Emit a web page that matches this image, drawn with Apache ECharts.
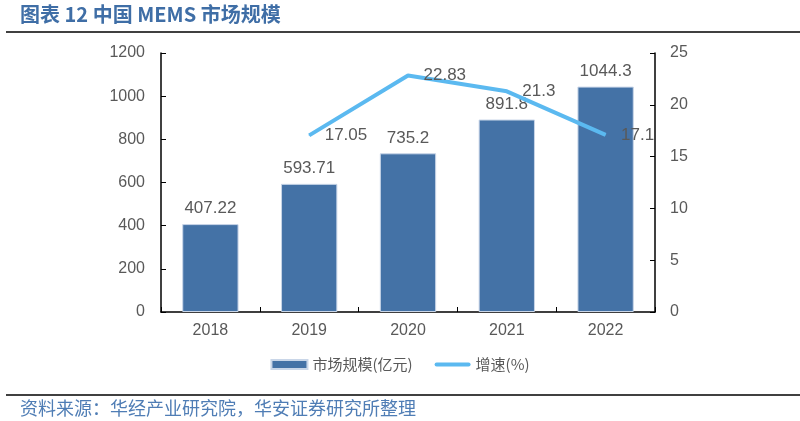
<!DOCTYPE html>
<html><head><meta charset="utf-8">
<script src="https://cdn.jsdelivr.net/npm/echarts@6/dist/echarts.min.js"></script>
<style>html,body{margin:0;padding:0;background:#fff;}#c{width:800px;height:421px;}</style>
</head><body><div id="c"></div>
<script>
const categories = ['2018','2019','2020','2021','2022'];
const marketSize = [407.22, 593.71, 735.2, 891.8, 1044.3];
const growth = [null, 17.05, 22.83, 21.3, 17.1];
const growthLabels = ['', '17.05', '22.83', '21.3', '17.1'];
const leftTicks = [0, 200, 400, 600, 800, 1000, 1200];
const rightTicks = [0, 5, 10, 15, 20, 25];

const chart = echarts.init(document.getElementById('c'), null, {renderer:'canvas'});
const txt = '#595959';
const font = 'Liberation Sans, Arial, sans-serif';
chart.setOption({
  animation:false,
  textStyle:{fontFamily:font},
  graphic:[
    {type:'text', left:20, top:4, style:{text:'图表 12 中国 MEMS 市场规模', font:'bold 20px "Noto Sans CJK SC", sans-serif', fill:'#3F6EA6'}},
    {type:'rect', shape:{x:6, y:31, width:794, height:2}, style:{fill:'#404040'}},
    {type:'rect', shape:{x:6, y:394, width:794, height:2}, style:{fill:'#404040'}},
    {type:'text', left:20, top:399, style:{text:'资料来源：华经产业研究院，华安证券研究所整理', font:'18px "Noto Sans CJK SC", serif', fill:'#4F7DB5'}}
  ],
  grid:{left:161, right:145, top:53, bottom:109},
  legend:{
    bottom:44, left:'center', itemGap:22, itemWidth:36, itemHeight:9,
    textStyle:{color:txt, fontSize:15, fontFamily:'"Noto Sans CJK SC", sans-serif'},
    data:[{name:'市场规模(亿元)', icon:'rect'},
          {name:'增速(%)', icon:'path://M2,0 h32 a2,2 0 0 1 0,4 h-32 a2,2 0 0 1 0,-4 z', itemStyle:{color:'#5BB9F0', opacity:1}}]
  },
  xAxis:{
    type:'category', data:categories,
    axisLine:{lineStyle:{color:'#000', width:1.5}},
    axisTick:{show:true, inside:true, length:5, alignWithLabel:false, lineStyle:{color:'#000'}},
    axisLabel:{color:txt, fontSize:16, margin:11, fontFamily:font}
  },
  yAxis:[
    {type:'value', min:0, max:1200, interval:200,
     axisLine:{show:true, lineStyle:{color:'#000', width:1.5}},
     axisTick:{show:true, inside:true, length:5, lineStyle:{color:'#000'}},
     splitLine:{show:false},
     axisLabel:{color:txt, fontSize:16, margin:16, fontFamily:font, formatter:v=>String(v)}},
    {type:'value', min:0, max:25, interval:5,
     axisLine:{show:true, lineStyle:{color:'#000', width:1.5}},
     axisTick:{show:true, inside:true, length:5, lineStyle:{color:'#000'}},
     splitLine:{show:false},
     axisLabel:{color:txt, fontSize:16, margin:15, fontFamily:font, formatter:v=>String(v)}}
  ],
  series:[
    {name:'市场规模(亿元)', type:'bar', data:marketSize, barWidth:'57%',
     itemStyle:{color:'#4472A6', borderColor:'#C9D6E8', borderWidth:1},
     label:{show:true, position:'top', distance:7, color:txt, fontSize:17, fontFamily:font}},
    {name:'增速(%)', type:'line', yAxisIndex:1, data:growth, symbol:'circle', symbolSize:1, showSymbol:true, connectNulls:false,
     lineStyle:{color:'#5BB9F0', width:4}, itemStyle:{color:'#5BB9F0'},
     label:{show:true, position:'right', distance:15, color:txt, fontSize:17, fontFamily:font,
       formatter:p=>growthLabels[p.dataIndex]}}
  ]
});
</script></body></html>
